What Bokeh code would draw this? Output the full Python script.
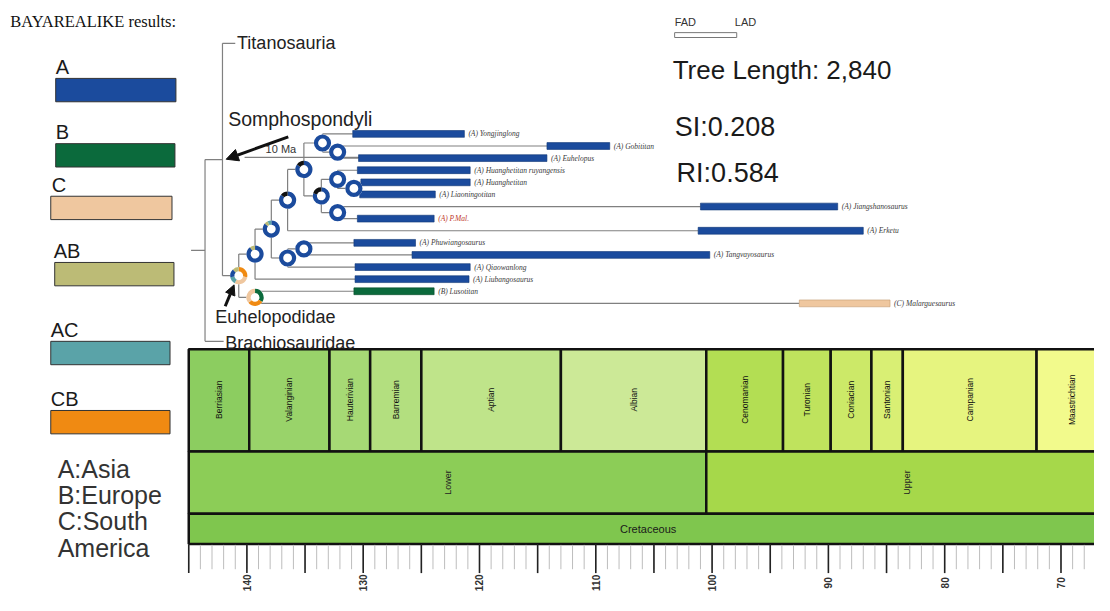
import numpy as np
from bokeh.plotting import figure
from bokeh.models import Range1d, Arrow, NormalHead
from bokeh.core.properties import value
from bokeh.embed import file_html
from bokeh.resources import INLINE

# ---------------- data ----------------
stage_names = ["Berriasian", "Valanginian", "Hauterivian", "Barremian", "Aptian", "Albian",
               "Cenomanian", "Turonian", "Coniacian", "Santonian", "Campanian", "Maastrichtian"]
stage_start = [145.0, 139.8, 132.9, 129.4, 125.0, 113.0, 100.5, 93.9, 89.8, 86.3, 83.6, 72.1]
stage_end = [139.8, 132.9, 129.4, 125.0, 113.0, 100.5, 93.9, 89.8, 86.3, 83.6, 72.1, 66.0]
stage_colors = ["#8ccd60", "#99d36a", "#a6d975", "#b3df7f", "#bfe48a", "#cce997",
                "#b3de53", "#bfe35d", "#cce968", "#d9ef74", "#e6f47f", "#f2fa8c"]
epoch_names = ["Lower", "Upper"]
epoch_start = [145.0, 100.5]
epoch_end = [100.5, 66.0]
epoch_colors = ["#8ccd57", "#a6d84a"]
period_names = ["Cretaceous"]
period_start = [145.0]
period_end = [66.0]
period_colors = ["#7fc64e"]

tick_labels = [140, 130, 120, 110, 100, 90, 80, 70]

taxa = ["(A) Yongjinglong", "(A) Gobititan", "(A) Euhelopus", "(A) Huanghetitan ruyangensis",
        "(A) Huanghetitan", "(A) Liaoningotitan", "(A) Jiangshanosaurus", "(A) P.Mal.",
        "(A) Erketu", "(A) Phuwiangosaurus", "(A) Tangvayosaurus", "(A) Qiaowanlong",
        "(A) Liubangosaurus", "(B) Lusotitan", "(C) Malarguesaurus"]
taxon_area = ["A", "A", "A", "A", "A", "A", "A", "A", "A", "A", "A", "A", "A", "B", "C"]
fad_ma = [130.9, 114.2, 130.4, 130.5, 130.2, 130.3, 101.0, 130.5, 101.2, 130.8, 125.8, 130.7, 130.7, 130.8, 92.5]
lad_ma = [121.3, 108.8, 114.2, 120.8, 120.8, 123.8, 89.2, 123.9, 87.0, 125.5, 100.2, 120.8, 120.9, 123.9, 84.7]

outgroups = ["Titanosauria", "Brachiosauridae"]
outgroup_end_ma = [141.0, 142.0]

tree_children = {
    "root": ["Somphospondyli", "Brachiosauridae"],
    "Somphospondyli": ["Titanosauria", "n13"],
    "n13": ["n10", "n14"],
    "n14": ["(B) Lusotitan", "(C) Malarguesaurus"],
    "n10": ["n9", "(A) Liubangosaurus"],
    "n9": ["n8", "n12"],
    "n8": ["n3", "(A) Erketu"],
    "n3": ["n1", "n6"],
    "n1": ["(A) Yongjinglong", "n2"],
    "n2": ["(A) Gobititan", "(A) Euhelopus"],
    "n6": ["n4", "n7"],
    "n4": ["(A) Huanghetitan ruyangensis", "n5"],
    "n5": ["(A) Huanghetitan", "(A) Liaoningotitan"],
    "n7": ["(A) Jiangshanosaurus", "(A) P.Mal."],
    "n12": ["n11", "(A) Qiaowanlong"],
    "n11": ["(A) Phuwiangosaurus", "(A) Tangvayosaurus"],
}
node_age = {"root": 143.6, "Somphospondyli": 142.1, "n13": 140.7, "n14": 139.3, "n10": 139.3,
            "n9": 137.9, "n8": 136.5, "n12": 136.5, "n3": 135.1, "n11": 135.1, "n1": 133.5,
            "n6": 133.6, "n2": 132.2, "n4": 132.2, "n7": 132.2, "n5": 130.8}
root_stem_ma = 144.8

# ancestral range probabilities at nodes (area -> probability)
node_probs = {
    "n13": [("CB", 0.28), ("C", 0.30), ("AC", 0.14), ("A", 0.16), ("AB", 0.12)],
    "n14": [("B", 0.34), ("CB", 0.30), ("C", 0.36)],
    "n10": [("A", 0.90), ("AB", 0.10)],
    "n9": [("A", 0.86), ("AB", 0.07), ("AC", 0.07)],
    "n8": [("A", 0.86), ("other", 0.14)],
    "n3": [("A", 0.85), ("other", 0.15)],
    "n6": [("A", 0.80), ("other", 0.20)],
    "n1": [("A", 1.0)], "n2": [("A", 1.0)], "n4": [("A", 1.0)], "n5": [("A", 1.0)],
    "n7": [("A", 1.0)], "n11": [("A", 1.0)], "n12": [("A", 1.0)],
}

legend_codes = ["A", "B", "C", "AB", "AC", "CB"]
area_lines = ["A:Asia", "B:Europe", "C:South", "America"]
stats_lines = ["Tree Length: 2,840", "SI:0.208", "RI:0.584"]

area_color = {"A": "#1b4b9d", "B": "#0b6a3c", "C": "#efc79f", "AB": "#bcbb76",
              "AC": "#5aa3a8", "CB": "#f08a12", "other": "#111111"}
area_edge = {"A": "#0f3576", "B": "#064a29", "C": "#c49a70", "AB": "#555533",
             "AC": "#335f62", "CB": "#a35a05"}

# ---------------- figure ----------------
# x: millions of years (reversed); y: picture rows (top = 0)
px_per_ma = 11.8
x_ref_left, x_ref_right = 0, 1110
ma_left = 140 + (250 - x_ref_left) / px_per_ma
ma_right = 140 - (x_ref_right - 250) / px_per_ma

p = figure(width=1094, height=595, x_range=Range1d(ma_left, ma_right), y_range=Range1d(611, 0),
           output_backend="svg", toolbar_location=None, min_border=0,
           x_axis_location=None, y_axis_location=None)
p.extra_x_ranges = {"px": Range1d(0, 1110)}
p.grid.visible = False
p.outline_line_color = None
p.background_fill_color = "white"

SANS = value("Liberation Sans")
SERIF = value("Liberation Serif")

# ---------------- time scale ----------------
st_top, st_bot = 358, 463
ep_bot = 527
pe_bot = 558
p.quad(left=stage_start, right=stage_end, top=st_top, bottom=st_bot, fill_color=stage_colors,
       line_color="#111111", line_width=2.5)
p.quad(left=epoch_start, right=epoch_end, top=st_bot, bottom=ep_bot, fill_color=epoch_colors,
       line_color="#111111", line_width=2.5)
p.quad(left=period_start, right=period_end, top=ep_bot, bottom=pe_bot, fill_color=period_colors,
       line_color="#111111", line_width=2.5)
stage_mid = [(a + b) / 2 for a, b in zip(stage_start, stage_end)]
p.text(x=stage_mid, y=[410] * len(stage_mid), text=stage_names, angle=np.pi / 2,
       text_align="center", text_baseline="middle", text_font=SANS, text_font_size="8.5px",
       text_color="#111111")
epoch_mid = [(a + b) / 2 for a, b in zip(epoch_start, epoch_end)]
p.text(x=epoch_mid, y=[495] * 2, text=epoch_names, angle=np.pi / 2, text_align="center",
       text_baseline="middle", text_font=SANS, text_font_size="9px", text_color="#222222")
period_mid = [(a + b) / 2 for a, b in zip(period_start, period_end)]
p.text(x=period_mid, y=[543], text=period_names, text_align="center", text_baseline="middle",
       text_font=SANS, text_font_size="11px", text_color="#1a1a1a")

# tick strip
minor = np.arange(145, 66, -1.0)
major = np.arange(145, 66, -5.0)
p.segment(x0=minor, x1=minor, y0=[559] * len(minor), y1=[584] * len(minor),
          line_color="#bdbdbd", line_width=1)
p.segment(x0=major, x1=major, y0=[559] * len(major), y1=[588] * len(major),
          line_color="#222222", line_width=1.6)
p.text(x=tick_labels, y=[598] * len(tick_labels), text=[str(t) for t in tick_labels],
       angle=np.pi / 2, text_align="center", text_baseline="middle", text_font=SANS,
       text_font_size="10px", text_font_style="bold", text_color="#333333")

# ---------------- tree ----------------
tip_y = {name: 137 + 12.43 * i for i, name in enumerate(taxa)}
tip_y["Titanosauria"] = 44
tip_y["Brachiosauridae"] = 350
end_age = {name: f for name, f in zip(taxa, fad_ma)}
end_age.update({n: e for n, e in zip(outgroups, outgroup_end_ma)})

node_y = {}


def get_y(n):
    if n in tree_children:
        if n not in node_y:
            node_y[n] = np.mean([get_y(c) for c in tree_children[n]])
        return node_y[n]
    return tip_y[n]


get_y("root")

hx0, hx1, hy, vx, vy0, vy1 = [], [], [], [], [], []
for n, kids in tree_children.items():
    a = node_age[n]
    ys = [get_y(c) for c in kids]
    vx.append(a); vy0.append(min(ys)); vy1.append(max(ys))
    for c in kids:
        hx0.append(a)
        hx1.append(node_age[c] if c in tree_children else end_age[c])
        hy.append(get_y(c))
hx0.append(root_stem_ma); hx1.append(node_age["root"]); hy.append(node_y["root"])
p.segment(x0=hx0, x1=hx1, y0=hy, y1=hy, line_color="#808080", line_width=1.2)
p.segment(x0=vx, x1=vx, y0=vy0, y1=vy1, line_color="#808080", line_width=1.2)

# 10 Ma scale bar
p.segment(x0=[140.2], x1=[130.2], y0=[161], y1=[161], line_color="#808080", line_width=1.2)
p.text(x=[269], y=[152], text=["10 Ma"], x_range_name="px", text_font=SANS,
       text_font_size="11px", text_baseline="middle", text_color="#333333")

# range bars
bar_y = [tip_y[t] for t in taxa]
p.hbar(y=bar_y, left=fad_ma, right=lad_ma, height=7,
       fill_color=[area_color[a] for a in taxon_area],
       line_color=[area_edge[a] for a in taxon_area], line_width=0.6)
label_colors = ["#c0392b" if t == "(A) P.Mal." else "#3a3a3a" for t in taxa]
p.text(x=lad_ma, y=bar_y, text=taxa, x_offset=4, text_baseline="middle", text_font=SERIF,
       text_font_style="italic", text_font_size="7.5px", text_color=label_colors)

# node pies (rings)
pie_nodes = list(node_probs.keys())
p.circle(x=[node_age[n] for n in pie_nodes], y=[node_y[n] for n in pie_nodes], radius=8.6,
         radius_units="screen", fill_color="white", line_color=None)
for n in pie_nodes:
    probs = node_probs[n]
    x, y = node_age[n], node_y[n]
    if len(probs) == 1:
        p.annulus(x=[x], y=[y], inner_radius=4.4, outer_radius=8.6, inner_radius_units="screen",
                  outer_radius_units="screen", fill_color=area_color[probs[0][0]], line_color=None)
        continue
    start = np.pi / 2
    for area, frac in probs:
        end = start - 2 * np.pi * frac
        p.annular_wedge(x=[x], y=[y], inner_radius=4.4, outer_radius=8.6, start_angle=end,
                        end_angle=start, inner_radius_units="screen", outer_radius_units="screen",
                        fill_color=area_color[area], line_color=None)
        start = end

# clade labels
p.text(x=[240, 218, 228], y=[44, 325, 352],
       text=["Titanosauria", "Euhelopodidae", "Brachiosauridae"],
       x_range_name="px", text_baseline="middle", text_font=SANS, text_font_size="18px",
       text_color="#222222")
p.text(x=[231], y=[122], text=["Somphospondyli"], x_range_name="px", text_baseline="middle",
       text_font=SANS, text_font_size="19.5px", text_color="#222222")
p.add_layout(Arrow(end=NormalHead(size=12, fill_color="#111111", line_color="#111111"),
                   x_start=292, y_start=140, x_end=229, y_end=163, line_width=3,
                   line_color="#111111", x_range_name="px"))
p.add_layout(Arrow(end=NormalHead(size=10, fill_color="#111111", line_color="#111111"),
                   x_start=228, y_start=314, x_end=237, y_end=292, line_width=3,
                   line_color="#111111", x_range_name="px"))

# ---------------- legend (left) ----------------
p.text(x=[10], y=[22], text=["BAYAREALIKE results:"], x_range_name="px", text_font=SERIF,
       text_font_size="16.5px", text_baseline="middle", text_color="#111111")
box_l = [56, 56, 51, 55, 51, 51]
box_r = [178, 177, 174, 176, 172, 172]
box_t = [80, 147, 201, 269, 350, 421]
box_lab_x = [56, 56, 52, 54, 51, 51]
p.quad(left=box_l, right=box_r, top=box_t, bottom=[t + 24 for t in box_t],
       fill_color=[area_color[c] for c in legend_codes], line_color="#333333", line_width=1,
       x_range_name="px")
p.text(x=box_lab_x, y=[t - 12 for t in box_t], text=legend_codes, x_range_name="px",
       text_font=SANS, text_font_size="20px", text_baseline="middle", text_color="#1a1a1a")
p.text(x=[58] * 4, y=[481, 508, 535, 562], text=area_lines, x_range_name="px", text_font=SANS,
       text_font_size="25px", text_baseline="middle", text_color="#333333")

# ---------------- stats / FAD-LAD key ----------------
p.text(x=[682], y=[71], text=[stats_lines[0]], x_range_name="px", text_font=SANS,
       text_font_size="26px", text_baseline="middle", text_color="#1a1a1a")
p.text(x=[684, 686], y=[130, 177], text=stats_lines[1:], x_range_name="px", text_font=SANS,
       text_font_size="27px", text_baseline="middle", text_color="#1a1a1a")
p.text(x=[684, 745], y=[22, 22], text=["FAD", "LAD"], x_range_name="px", text_font=SANS,
       text_font_size="11px", text_baseline="middle", text_color="#333333")
p.quad(left=[684], right=[747], top=[33], bottom=[38], x_range_name="px", fill_color="white",
       line_color="#777777", line_width=1)

open("out.html", "w").write(file_html(p, INLINE))
